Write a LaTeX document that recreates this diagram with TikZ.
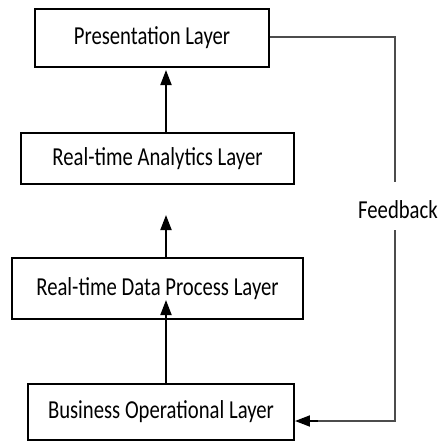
\documentclass[tikz,border=0pt]{standalone}
\usepackage{fontspec}
\setmainfont{Carlito}
\usetikzlibrary{arrows.meta}
\newcommand{\tall}[1]{\scalebox{1}[1.25]{#1}}

\begin{document}
\begin{tikzpicture}[x=0.5pt,y=-0.5pt,>={Triangle[width=5.5pt,length=7.5pt]},
  layer/.style={draw,line width=1pt,inner sep=0pt,font=\fontsize{10.35}{12}\selectfont},
  flow/.style={->,line width=0.9pt},
  fb/.style={line width=1pt,draw=black!70}]
  \useasboundingbox (0,0) rectangle (441,441);
  \node[layer,minimum width=117pt,minimum height=29pt] (pres) at (152,38) {\tall{Presentation Layer}};
  \node[layer,minimum width=136.5pt,minimum height=25.5pt] (ana) at (157.5,158.5) {\tall{Real-time Analytics Layer}};
  \node[layer,minimum width=145.5pt,minimum height=30.5pt] (proc) at (157.5,288.5) {\tall{Real-time Data Process Layer}};
  \node[layer,minimum width=133pt,minimum height=28pt] (bus) at (161,412) {\tall{Business Operational Layer}};
  % upward flow
  \coordinate (tip1) at (166,70);
  \coordinate (tip2) at (166,215);
  \coordinate (tip3) at (166,300);
  \draw[flow] (ana.north -| tip1) -- (tip1);
  \draw[flow] (proc.north -| tip2) -- (tip2);
  \draw[flow] (bus.north -| tip3) -- (tip3);
  % feedback loop
  \node[font=\fontsize{10.35}{12}\selectfont] (feed) at (398,210) {\tall{Feedback}};
  \coordinate (c1) at (395,37);
  \coordinate (c2) at (395,421);
  \draw[fb] (pres.east |- c1) -- (c1) -- (c1 |- 0,182);
  \draw[fb] (c2 |- 0,230) -- (c2) -- (c2 -| 316,0);
  \draw[flow] (c2 -| 318,0) -- (bus.east |- c2);
\end{tikzpicture}
\end{document}
